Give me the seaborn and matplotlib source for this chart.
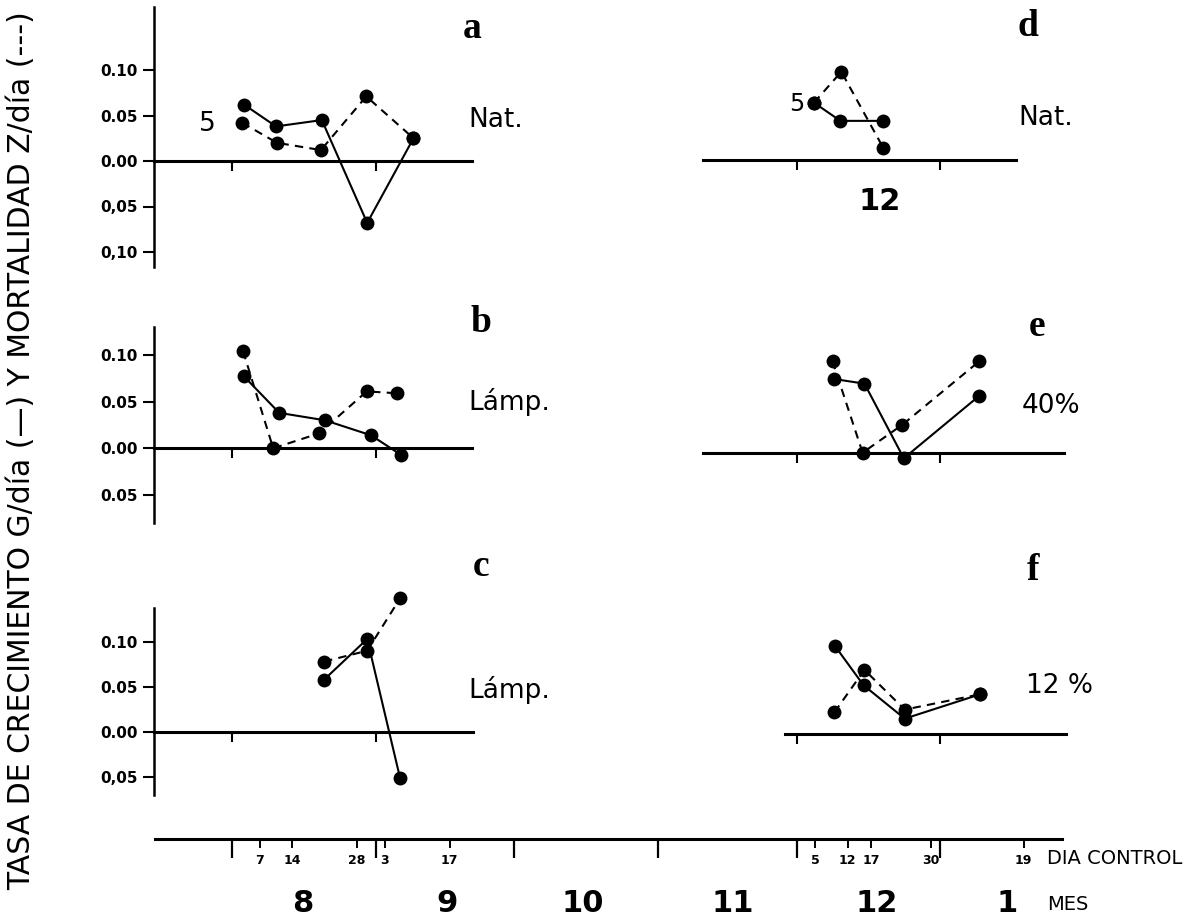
import matplotlib
matplotlib.use("Agg")
import matplotlib.pyplot as plt
import matplotlib.transforms as mtransforms
import seaborn as sns

# ---------------------------------------------------------------------------
# Data: time in days counted from 1 August (0); values in 1/day.
# G = growth rate (solid line), Z = mortality rate (dashed line)
# ---------------------------------------------------------------------------
a_days_g = [2.6, 9.5, 19.4, 29.2, 39.2]
a_g = [0.062, 0.038, 0.045, -0.068, 0.025]
a_days_z = [2.2, 9.7, 19.2, 29.0, 39.2]
a_z = [0.042, 0.020, 0.012, 0.071, 0.025]

b_days_g = [2.6, 10.2, 20.1, 30.0, 36.5]
b_g = [0.077, 0.038, 0.030, 0.014, -0.007]
b_days_z = [2.4, 8.9, 18.8, 29.1, 35.6]
b_z = [0.104, 0.000, 0.016, 0.061, 0.059]

c_days_g = [19.9, 29.2, 36.3]
c_g = [0.058, 0.103, -0.051]
c_days_z = [19.9, 29.2, 36.3]
c_z = [0.078, 0.090, 0.148]

d_days_g = [125.7, 131.4, 140.5]
d_g = [0.063, 0.043, 0.043]
d_days_z = [125.7, 131.6, 140.7]
d_z = [0.063, 0.097, 0.013]

e_days_g = [130.0, 136.6, 145.1, 161.4]
e_g = [0.079, 0.074, -0.006, 0.061]
e_days_z = [129.7, 136.2, 144.8, 161.4]
e_z = [0.098, 0.000, 0.030, 0.098]

f_days_g = [130.3, 136.4, 145.3, 161.6]
f_g = [0.097, 0.054, 0.017, 0.044]
f_days_z = [130.1, 136.6, 145.3, 161.6]
f_z = [0.024, 0.071, 0.027, 0.044]

# Control dates (days from 1 Aug) and their labels
control_days = [6, 13, 27, 33, 47, 126, 133, 138, 151, 171]
control_labels = ["7", "14", "28", "3", "17", "5", "12", "17", "30", "19"]
# First day of each month (Aug .. Jan) and month names
month_start_days = [0, 31, 61, 92, 122, 153]
month_labels = ["8", "9", "10", "11", "12", "1"]

y_tick_values = [0.10, 0.05, 0.00, -0.05, -0.10]

# ---------------------------------------------------------------------------
sns.set_style("ticks")
plt.rcParams["font.family"] = ["DejaVu Sans"]
for key in ("text.color", "axes.labelcolor", "xtick.color", "ytick.color",
            "axes.edgecolor"):
    plt.rcParams[key] = "black"

FIG_W, FIG_H = 1201, 923
fig = plt.figure(figsize=(FIG_W / 100, FIG_H / 100), dpi=100)
fig.patch.set_facecolor("white")

X0_PX, PX_PER_DAY = 232.0, 4.63


def day_at(px):
    return (px - X0_PX) / PX_PER_DAY


def fpos(x, y):
    return x / FIG_W, 1 - y / FIG_H


def make_panel(left, right, top, bottom, zero, scale):
    ax = fig.add_axes([left / FIG_W, 1 - bottom / FIG_H,
                       (right - left) / FIG_W, (bottom - top) / FIG_H])
    ax.set_xlim(day_at(left), day_at(right))
    ax.set_ylim((zero - bottom) / scale, (zero - top) / scale)
    ax.patch.set_alpha(0)
    for s in ("top", "right"):
        ax.spines[s].set_visible(False)
    ax.spines["bottom"].set_position(("data", 0))
    ax.spines["bottom"].set_linewidth(2.2)
    ax.tick_params(axis="x", which="both", bottom=True, top=False,
                   direction="out", length=7, width=1.5,
                   labelbottom=False)
    ax.tick_params(axis="x", which="minor", length=0)
    return ax


def style_left_axis(ax, line_end_px, spine_lo, spine_hi, ticks, labels):
    ax.spines["left"].set_linewidth(1.8)
    ax.spines["left"].set_bounds(spine_lo, spine_hi)
    ax.spines["bottom"].set_bounds(ax.get_xlim()[0], day_at(line_end_px))
    ax.set_xticks(month_start_days[:2])
    ax.set_yticks(ticks)
    ax.set_yticklabels(labels)
    ax.tick_params(axis="y", which="major", left=True, right=False,
                   direction="out", length=8, width=1.5,
                   labelsize=11, pad=4)
    ax.tick_params(axis="y", which="minor", length=0)
    for lbl in ax.get_yticklabels():
        lbl.set_fontweight("bold")


def style_right_axis(ax, line_start_px, line_end_px):
    ax.spines["left"].set_visible(False)
    ax.spines["bottom"].set_bounds(day_at(line_start_px), day_at(line_end_px))
    ax.set_xticks(month_start_days[4:6])
    ax.set_yticks([])
    ax.tick_params(axis="y", which="both", left=False, length=0)


def draw_series(ax, days, vals, dashed):
    sns.lineplot(x=days, y=vals, ax=ax, color="black", linewidth=1.5,
                 linestyle=(0, (4, 3)) if dashed else "-",
                 marker="o", markersize=10, markeredgewidth=0,
                 estimator=None, sort=False, legend=False)


# --- row 1: panels a and d -------------------------------------------------
ax_a = make_panel(154, 560, 0, 290, 161, 910)
style_left_axis(ax_a, 472, -0.1165, 0.169, y_tick_values,
                ["0.10", "0.05", "0.00", "0,05", "0,10"])
draw_series(ax_a, a_days_g, a_g, False)
draw_series(ax_a, a_days_z, a_z, True)

ax_d = make_panel(650, 1100, 0, 290, 160, 910)
style_right_axis(ax_d, 703, 1016)
draw_series(ax_d, d_days_g, d_g, False)
draw_series(ax_d, d_days_z, d_z, True)

# --- row 2: panels b and e -------------------------------------------------
ax_b = make_panel(154, 560, 300, 540, 448.3, 933)
style_left_axis(ax_b, 472, -0.080, 0.130, y_tick_values[:4],
                ["0.10", "0.05", "0.00", "0.05"])
draw_series(ax_b, b_days_g, b_g, False)
draw_series(ax_b, b_days_z, b_z, True)

ax_e = make_panel(650, 1100, 300, 540, 452.7, 933)
style_right_axis(ax_e, 703, 1064)
draw_series(ax_e, e_days_g, e_g, False)
draw_series(ax_e, e_days_z, e_z, True)

# --- row 3: panels c and f -------------------------------------------------
ax_c = make_panel(154, 560, 550, 810, 732, 903)
style_left_axis(ax_c, 473, -0.070, 0.137, y_tick_values[:4],
                ["0.10", "0.05", "0.00", "0,05"])
draw_series(ax_c, c_days_g, c_g, False)
draw_series(ax_c, c_days_z, c_z, True)

ax_f = make_panel(650, 1100, 550, 810, 734, 903)
style_right_axis(ax_f, 785, 1066)
draw_series(ax_f, f_days_g, f_g, False)
draw_series(ax_f, f_days_z, f_z, True)

# --- panel letters and treatment labels -----------------------------------
letter_kw = dict(family="Liberation Serif", fontweight="bold", fontsize=27,
                 ha="center", va="center")
for ch, (x, y) in zip("abcdef", [(472, 28), (481, 322), (481, 567),
                                  (1028, 26), (1037, 326), (1033, 570)]):
    fig.text(*fpos(x, y), ch, **letter_kw)

cond_kw = dict(fontsize=19, ha="left", va="center")
fig.text(*fpos(468, 120), "Nat.", **cond_kw)
fig.text(*fpos(1018, 118), "Nat.", **cond_kw)
fig.text(*fpos(468, 402), "Lámp.", **cond_kw)
fig.text(*fpos(468, 690), "Lámp.", **cond_kw)
fig.text(*fpos(1022, 406), "40%", **cond_kw)
fig.text(*fpos(1026, 686), "12 %", **cond_kw)
fig.text(*fpos(207, 124), "5", fontsize=19, ha="center", va="center")
fig.text(*fpos(797, 104), "5", fontsize=17, ha="center", va="center")
fig.text(*fpos(880, 201), "12", fontsize=22, fontweight="bold",
         ha="center", va="center")

# --- common time axis ------------------------------------------------------
# The axes spans the strip just below the time line; its y unit is one pixel
# measured downward from the line (0 at the line, -31 at the strip bottom).
AXIS_Y, STRIP = 839, 31
ax_t = fig.add_axes([155 / FIG_W, 1 - (AXIS_Y + STRIP) / FIG_H,
                     (1062 - 155) / FIG_W, STRIP / FIG_H])
ax_t.set_xlim(day_at(155), day_at(1062))
ax_t.set_ylim(-STRIP, 0)
ax_t.patch.set_alpha(0)
for s in ("bottom", "right", "left"):
    ax_t.spines[s].set_visible(False)
ax_t.spines["top"].set_linewidth(2.2)
ax_t.set_xticks([])
ax_t.set_yticks([])
ax_t.tick_params(axis="both", which="both", length=0)

# long ticks at month starts, short ticks at control dates
ax_t.vlines(month_start_days, -19, 0, color="black", linewidth=1.6)
ax_t.vlines(control_days, -9, 0, color="black", linewidth=1.4)
for d, lab in zip(control_days, control_labels):
    ax_t.text(d, -21, lab, fontsize=9, fontweight="bold",
              ha="center", va="center")

month_mid_days = [15.3, 46.4, 75.8, 108.2, 139.3, 167.4]
blend = mtransforms.blended_transform_factory(ax_t.transData, fig.transFigure)
for d, m in zip(month_mid_days, month_labels):
    ax_t.text(d, 1 - 904 / FIG_H, m, transform=blend, fontsize=22,
              fontweight="bold", ha="center", va="center")

fig.text(*fpos(1047, 858), "DIA CONTROL", fontsize=14, ha="left", va="center")
fig.text(*fpos(1047, 905), "MES", fontsize=14, ha="left", va="center")

# --- y axis title ----------------------------------------------------------
fig.text(*fpos(22, 451),
         "TASA DE CRECIMIENTO G/día (—) Y MORTALIDAD Z/día (---)",
         rotation=90, fontsize=21.5, ha="center", va="center")

fig.savefig("out.png", dpi=100, facecolor="white")
